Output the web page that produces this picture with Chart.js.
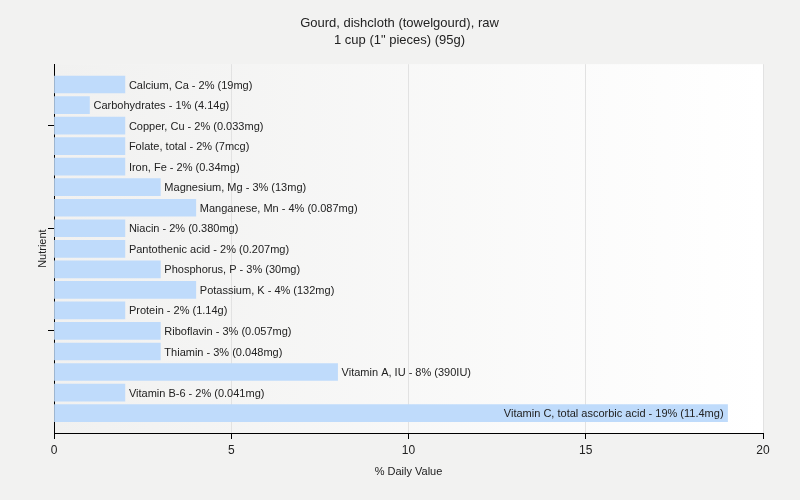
<!DOCTYPE html>
<html>
<head>
<meta charset="utf-8">
<script src="https://cdn.jsdelivr.net/npm/chart.js@4.4.1/dist/chart.umd.min.js"></script>
<style>
  html, body { margin: 0; padding: 0; background: #f2f2f1; }
  #wrap { width: 800px; height: 500px; }
</style>
</head>
<body>
<div id="wrap"><canvas id="chart" width="800" height="500"></canvas></div>
<script>
const nutrients = [
    'Calcium, Ca', 'Carbohydrates', 'Copper, Cu', 'Folate, total', 'Iron, Fe',
    'Magnesium, Mg', 'Manganese, Mn', 'Niacin', 'Pantothenic acid', 'Phosphorus, P',
    'Potassium, K', 'Protein', 'Riboflavin', 'Thiamin', 'Vitamin A, IU',
    'Vitamin B-6', 'Vitamin C, total ascorbic acid'
];
const dailyValues = [2, 1, 2, 2, 2, 3, 4, 2, 2, 3, 4, 2, 3, 3, 8, 2, 19];
const amounts = [
    '19mg', '4.14g', '0.033mg', '7mcg', '0.34mg', '13mg', '0.087mg', '0.380mg',
    '0.207mg', '30mg', '132mg', '1.14g', '0.057mg', '0.048mg', '390IU', '0.041mg', '11.4mg'
];
const xTicks = [0, 5, 10, 15, 20];
const yTicks = [2, 7, 12];

const FONT = '"Liberation Sans", Arial, sans-serif';
const TEXT = '#222';

// light gradient behind the plot
const plotBackground = {
    id: 'plotBackground',
    beforeDraw(chart) {
        const { ctx, chartArea: a } = chart;
        const g = ctx.createLinearGradient(a.left, 0, a.right, 0);
        g.addColorStop(0, '#f1f1f0');
        g.addColorStop(1, '#ffffff');
        ctx.save();
        ctx.fillStyle = g;
        ctx.fillRect(a.left, a.top, a.right - a.left, a.bottom - a.top);
        ctx.restore();
    }
};

// text next to each bar, or inside it when there's no room
const barLabels = {
    id: 'barLabels',
    afterDatasetsDraw(chart) {
        const { ctx, chartArea: a } = chart;
        const meta = chart.getDatasetMeta(0);
        ctx.save();
        ctx.font = '11px ' + FONT;
        ctx.fillStyle = TEXT;
        ctx.textBaseline = 'middle';
        meta.data.forEach((bar, i) => {
            const text = `${nutrients[i]} - ${dailyValues[i]}% (${amounts[i]})`;
            const w = ctx.measureText(text).width;
            if (bar.x + 4 + w > a.right) {
                ctx.textAlign = 'right';
                ctx.fillText(text, bar.x - 4, bar.y + 1);
            } else {
                ctx.textAlign = 'left';
                ctx.fillText(text, bar.x + 4, bar.y + 1);
            }
        });
        ctx.restore();
    }
};

const ctx = document.getElementById('chart').getContext('2d');
new Chart(ctx, {
    type: 'bar',
    data: {
        datasets: [{
            data: dailyValues.map((v, i) => ({ x: v, y: i })),
            backgroundColor: '#bfdbfb',
            borderWidth: 0,
            barThickness: 17
        }]
    },
    options: {
        indexAxis: 'y',
        responsive: false,
        animation: false,
        layout: { padding: { left: 36, right: 37, top: 0, bottom: 16 } },
        plugins: {
            legend: { display: false },
            tooltip: { enabled: false },
            title: {
                display: true,
                text: 'Gourd, dishcloth (towelgourd), raw',
                color: TEXT,
                font: { family: FONT, size: 13, weight: 'normal', lineHeight: 1.2 },
                padding: { top: 16, bottom: 1 }
            },
            subtitle: {
                display: true,
                text: '1 cup (1" pieces) (95g)',
                color: TEXT,
                font: { family: FONT, size: 13, weight: 'normal', lineHeight: 1.2 },
                padding: { top: 0, bottom: 16 }
            }
        },
        scales: {
            x: {
                type: 'linear',
                min: 0,
                max: 20,
                afterBuildTicks: s => { s.ticks = xTicks.map(v => ({ value: v })); },
                afterFit: s => { s.height = 51; },
                grid: {
                    color: '#e2e2e2',
                    tickColor: '#000',
                    tickLength: 6,
                    drawTicks: true
                },
                border: { color: '#000', width: 1 },
                ticks: { color: TEXT, font: { family: FONT, size: 12 }, padding: 4 },
                title: {
                    display: true,
                    text: '% Daily Value',
                    color: TEXT,
                    font: { family: FONT, size: 11 },
                    padding: { top: 0, bottom: 5 }
                }
            },
            y: {
                type: 'linear',
                reverse: true,
                offset: false,
                min: -0.99,
                max: 16.97,
                afterBuildTicks: s => { s.ticks = yTicks.map(v => ({ value: v })); },
                afterFit: s => { s.width = 18; },
                grid: {
                    offset: false,
                    drawOnChartArea: false,
                    tickColor: '#000',
                    tickLength: 6
                },
                border: { color: '#000', width: 1 },
                ticks: { callback: () => '', padding: 0 },
                title: {
                    display: true,
                    text: 'Nutrient',
                    color: TEXT,
                    font: { family: FONT, size: 11 },
                    padding: { top: 0, bottom: 0 }
                }
            }
        }
    },
    plugins: [plotBackground, barLabels]
});
</script>
</body>
</html>
